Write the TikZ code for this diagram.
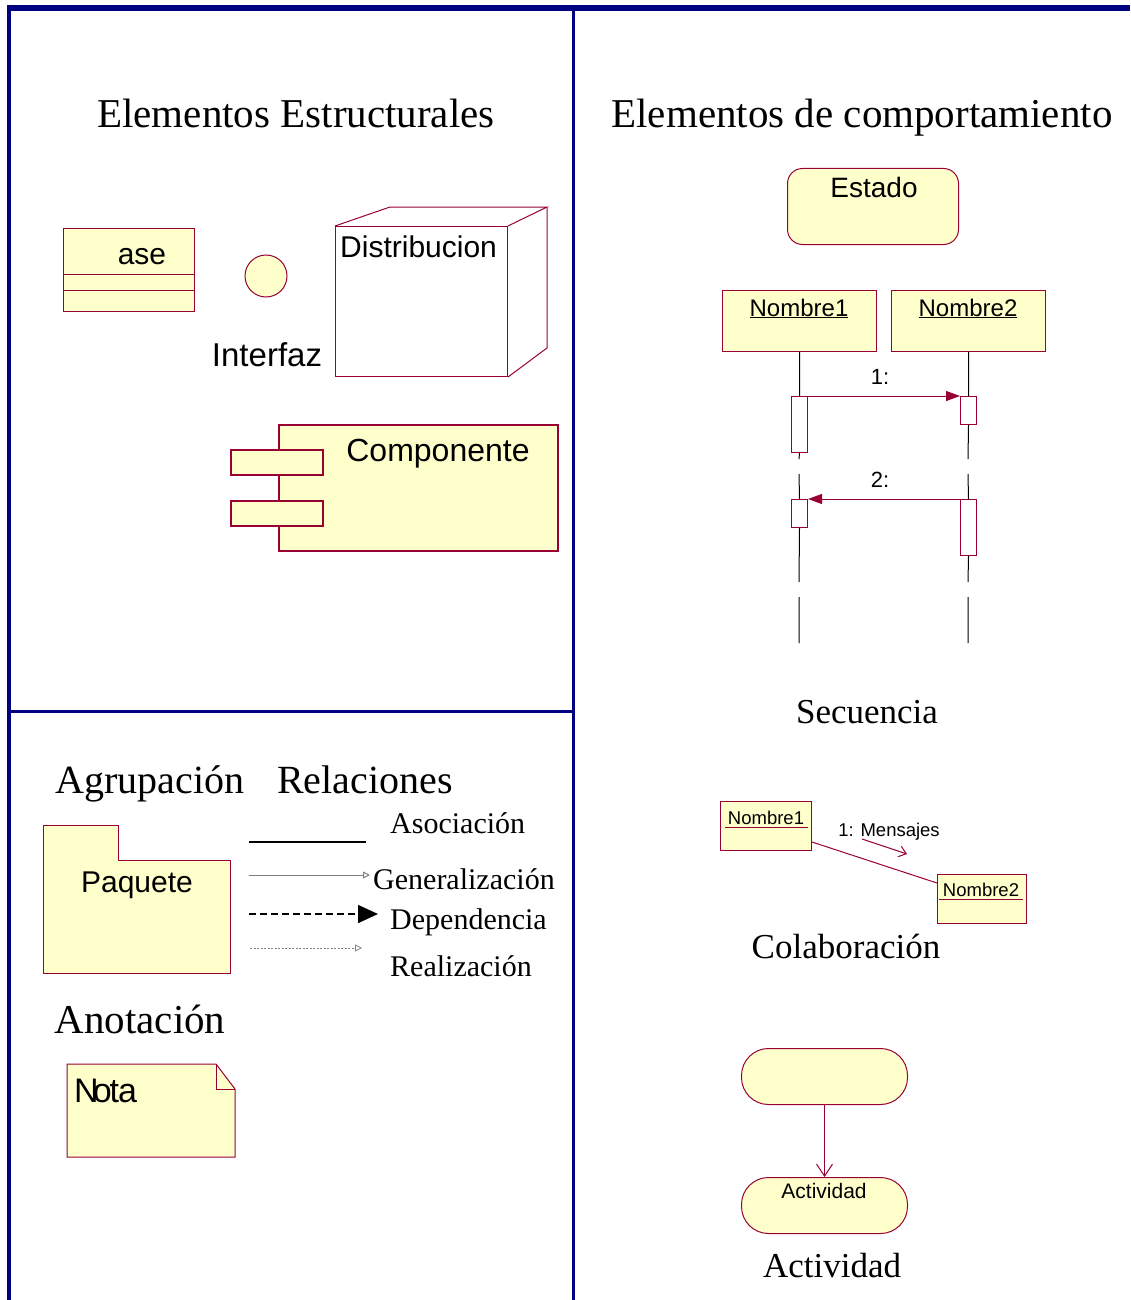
\documentclass[tikz,border=0pt]{standalone}
\usepackage{fontspec}
\setmainfont{Liberation Serif}
\setsansfont{Liberation Sans}
\usepackage{tikz}
\usetikzlibrary{positioning}
\usetikzlibrary{arrows.meta}
\definecolor{marco}{RGB}{0,0,128}
\definecolor{borde}{RGB}{153,0,51}
\definecolor{relleno}{RGB}{255,255,204}

\begin{document}
\begin{tikzpicture}[x=1pt, y=-1pt,
    caja/.style={draw=borde, fill=relleno, line width=1pt, inner sep=0pt, anchor=north west},
    forma/.style={draw=borde, fill=relleno, line width=1pt},
    activ/.style={draw=borde, fill=white, line width=1pt, inner sep=0pt, anchor=north west, minimum width=16pt},
    vida/.style={line width=1pt},
    msg/.style={borde, line width=1pt, -{Triangle[length=14pt, width=10pt]}},
    titulo/.style={font=\fontsize{41}{46}\selectfont, anchor=base, inner sep=0pt},
    sub/.style={font=\fontsize{35}{40}\selectfont, anchor=base, inner sep=0pt},
    rel/.style={font=\fontsize{30}{34}\selectfont, anchor=base west, inner sep=0pt},
    etiq/.style={font=\sffamily\fontsize{30}{34}\selectfont, anchor=base, inner sep=0pt}]
    \useasboundingbox (0,0) rectangle (1130,1300);
    % marco
    \draw[marco, line width=6pt] (7,8) -- (1130,8);
    \draw[marco, line width=4.5pt] (9,6) -- (9,1300);
    \draw[marco, line width=3pt] (573,8) -- (573,1300);
    \draw[marco, line width=3pt] (9,711) -- (573,711);

    % elementos estructurales
    \node[titulo] (tEst) at (296,128) {Elementos Estructurales};
    \node[caja, minimum width=131pt, minimum height=83pt] (clase) at (63,228) {};
    \draw[borde, line width=1pt] (63,274) -- (194,274) (63,290) -- (194,290);
    \node[etiq] (tClase) at (142,264) {ase};
    \node[forma, circle, minimum size=42pt, inner sep=0pt] (interfaz) at (266,276) {};
    \node[etiq, font=\sffamily\fontsize{33}{36}\selectfont] (tInterfaz) at (267,366) {Interfaz};
    \node[draw=borde, fill=white, line width=1pt, inner sep=0pt, anchor=north west,
          minimum width=172pt, minimum height=150pt] (nodo) at (335,226) {};
    \draw[borde, line width=1pt] (nodo.north west) -- (390,207) -- (547,207) -- (nodo.north east)
        (547,207) -- (547,348) -- (nodo.south east);
    \node[etiq, anchor=base west] (tNodo) at (340,257) {Distribucion};
    \node[caja, line width=1.6pt, minimum width=279pt, minimum height=126pt] (comp) at (278,424) {};
    \node[caja, line width=1.6pt, minimum width=92pt, minimum height=25pt] (puerto1) at (230,449) {};
    \node[caja, line width=1.6pt, minimum width=92pt, minimum height=25pt] (puerto2) at (230,500) {};
    \node[etiq, font=\sffamily\fontsize{32}{36}\selectfont] (tComp) at (438,461) {Componente};

    % agrupacion, relaciones, anotacion
    \node[titulo, font=\fontsize{40}{44}\selectfont] (tAgr) at (150,793) {Agrupación};
    \node[titulo, font=\fontsize{40}{44}\selectfont] (tRel) at (365,793) {Relaciones};
    \draw[forma] (43,825) -- (118,825) -- (118,860) -- (230,860) -- (230,973) -- (43,973) -- cycle;
    \node[etiq] (tPaq) at (137,892) {Paquete};
    \coordinate (r1a) at (249,842); \coordinate (r1b) at (366,842);
    \coordinate (r2a) at (249,875); \coordinate (r2b) at (370,875);
    \coordinate (r3a) at (249,914); \coordinate (r3b) at (378,914);
    \coordinate (r4a) at (250,948); \coordinate (r4b) at (362,948);
    \draw[line width=2pt] (r1a) -- (r1b);
    \draw[gray, line width=1pt, -{Triangle[open, length=7pt, width=7pt]}] (r2a) -- (r2b);
    \draw[line width=1.6pt, dash pattern=on 7pt off 4pt, -{Triangle[length=20pt, width=18pt]}] (r3a) -- (r3b);
    \draw[gray, line width=0.8pt, dash pattern=on 2pt off 1.5pt, -{Triangle[open, length=7pt, width=7pt]}] (r4a) -- (r4b);
    \node[rel] (tAso) at (390,833) {Asociación};
    \node[rel] (tGen) at (373,889) {Generalización};
    \node[rel] (tDep) at (390,929) {Dependencia};
    \node[rel] (tRea) at (390,976) {Realización};
    \node[titulo] (tAno) at (140,1033) {Anotación};
    \draw[forma] (67,1064) -- (216,1064) -- (235,1089) -- (235,1157) -- (67,1157) -- cycle;
    \draw[borde, line width=1pt] (216,1064) -- (216,1089) -- (235,1089);
    \node[etiq, anchor=base west, font=\sffamily\fontsize{34}{38}\selectfont] (tNota) at (74,1102) {N\kern-6pt o\kern-2pt t\kern-1pt a};

    % elementos de comportamiento
    \node[titulo] (tComp2) at (862,128) {Elementos de comportamiento};
    \node[caja, rounded corners=15pt, minimum width=171pt, minimum height=76pt] (estado) at (787,168) {};
    \node[etiq, font=\sffamily\fontsize{28}{32}\selectfont] (tEstado) at (874,197) {Estado};

    % secuencia
    \node[caja, minimum width=154pt, minimum height=61pt] (obj1) at (722,290) {};
    \node[caja, minimum width=154pt, minimum height=61pt] (obj2) at (891,290) {};
    \node[etiq, font=\sffamily\fontsize{24}{28}\selectfont] (tObj1) at (799,316) {\underline{Nombre1}};
    \node[etiq, font=\sffamily\fontsize{24}{28}\selectfont] (tObj2) at (968,316) {\underline{Nombre2}};
    \node[activ, minimum height=56pt] (a1) at (791,396) {};
    \node[activ, minimum height=28pt] (a2) at (960,396) {};
    \node[activ, minimum height=28pt] (a3) at (791,499) {};
    \node[activ, minimum height=56pt] (a4) at (960,499) {};
    \draw[vida] (obj1.south) -- (a1.north) (a1.south) -- (799,459) (799,474) -- (a3.north)
        (a3.south) -- (799,582) (799,597) -- (799,643);
    \draw[vida] (obj2.south) -- (a2.north) (a2.south) -- (968,459) (968,474) -- (a4.north)
        (a4.south) -- (968,582) (968,597) -- (968,643);
    \draw[msg] (a1.north east) -- (a2.north west);
    \draw[msg] (a4.north west) -- (a3.north east);
    \node[etiq, font=\sffamily\fontsize{22}{26}\selectfont] (tM1) at (880,384) {1:};
    \node[etiq, font=\sffamily\fontsize{22}{26}\selectfont] (tM2) at (880,487) {2:};
    \node[sub] (tSec) at (867,723) {Secuencia};

    % colaboracion
    \node[caja, minimum width=91pt, minimum height=49pt] (col1) at (720,801) {};
    \node[caja, minimum width=89pt, minimum height=49pt] (col2) at (937,874) {};
    \node[etiq, font=\sffamily\fontsize{18.5}{22}\selectfont] (tCol1) at (766,824) {Nombre1};
    \node[etiq, font=\sffamily\fontsize{18.5}{22}\selectfont] (tCol2) at (981,896) {Nombre2};
    \draw[borde, line width=1pt] (725,827) -- (808,827) (939,899) -- (1023,899);
    \draw[borde, line width=1pt] ([yshift=9pt]col1.south east) -- ([yshift=-9pt]col2.north west);
    \coordinate (m1) at (862,839);
    \coordinate (m2) at (907,854);
    \draw[borde, line width=1pt, -{Straight Barb[length=7pt, width=11pt]}] (m1) -- (m2);
    \node[etiq, font=\sffamily\fontsize{18.5}{22}\selectfont] (tMen) at (889,836) {1: Mensajes};
    \node[sub] (tCol) at (846,958) {Colaboración};

    % actividad
    \node[caja, rounded corners=27pt, minimum width=166pt, minimum height=56pt] (act1) at (741,1048) {};
    \node[caja, rounded corners=27pt, minimum width=166pt, minimum height=56pt] (act2) at (741,1177) {};
    \node[etiq, font=\sffamily\fontsize{21}{24}\selectfont] (tAct) at (824,1198) {Actividad};
    \draw[borde, line width=1pt, -{Straight Barb[length=12pt, width=16pt]}] (act1.south) -- (act2.north);
    \node[sub] (tActiv) at (832,1277) {Actividad};
\end{tikzpicture}
\end{document}
